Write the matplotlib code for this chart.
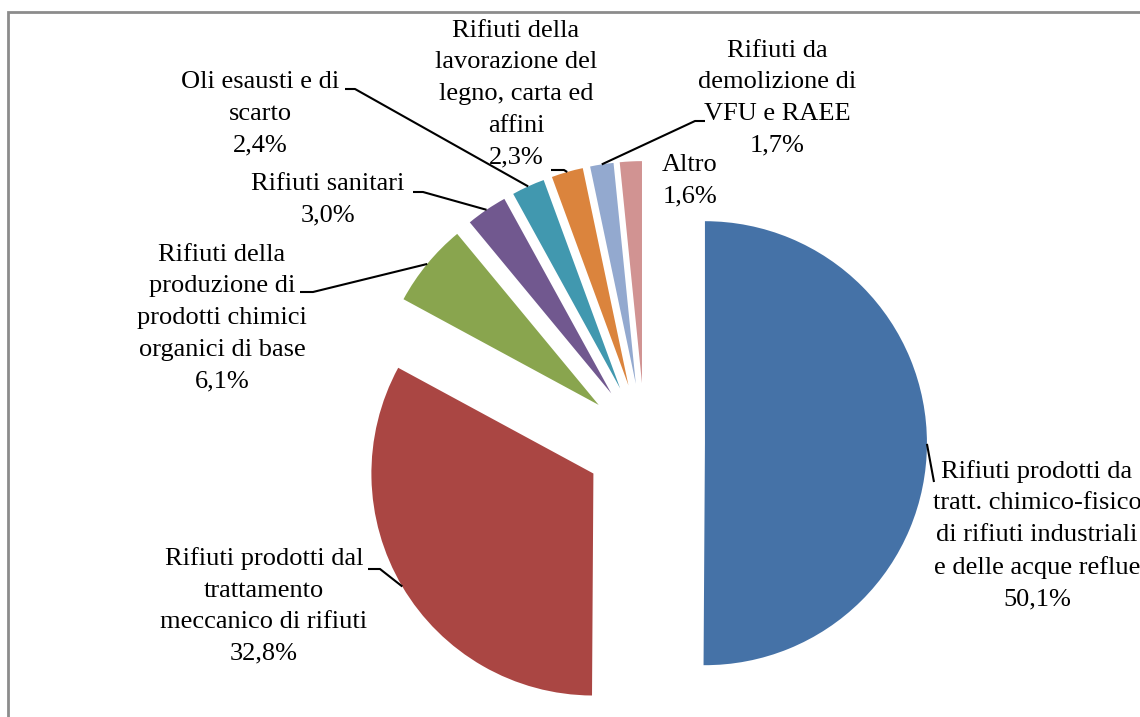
import math
import matplotlib
matplotlib.use("Agg")
import matplotlib.pyplot as plt
from matplotlib.patches import Rectangle

plt.rcParams['font.family'] = ['Liberation Serif', 'DejaVu Serif']

# data
categorie = ['Rifiuti prodotti da\ntratt. chimico-fisico\ndi rifiuti industriali\ne delle acque reflue',
             'Rifiuti prodotti dal\ntrattamento\nmeccanico di rifiuti',
             'Rifiuti della\nproduzione di\nprodotti chimici\norganici di base',
             'Rifiuti sanitari',
             'Oli esausti e di\nscarto',
             'Rifiuti della\nlavorazione del\nlegno, carta ed\naffini',
             'Rifiuti da\ndemolizione di\nVFU e RAEE',
             'Altro']
valori = [50.1, 32.8, 6.1, 3.0, 2.4, 2.3, 1.7, 1.6]
colori = ['#4572A7', '#AA4643', '#89A54E', '#71588F', '#4198AF', '#DB843D', '#93A9CF', '#D19392']

# layout (pixel positions of the labels and leader stubs)
W, H = 1140, 717
CX, CY, R = 645, 443, 222
ESPLODI = 0.27
pos_etichette = [(1037, 535), (264, 606), (222, 318), (328, 200),
                 (260, 114), (516, 94), (777, 98), (690, 181)]
stub = [[(934, 482)], [(368, 569), (380, 569)], [(300, 292), (313, 292)],
        [(413, 192), (423, 192)], [(345, 89), (355, 89)],
        [(551, 170), (564, 170)], [(705, 121), (695, 121)], None]


def px(x, y):
    return (x - CX) / R, (CY - y) / R


fig = plt.figure(figsize=(W / 100, H / 100), dpi=100)
ax = fig.add_axes([0, 0, 1, 1])
ax.pie(valori, colors=colori, startangle=90, counterclock=False,
       explode=[ESPLODI] * len(valori), radius=1, center=(0, 0),
       wedgeprops=dict(linewidth=0))
ax.set_xlim(px(0, 0)[0], px(W, 0)[0])
ax.set_ylim(px(0, H)[1], px(0, 0)[1])
ax.set_aspect('auto')
ax.axis('off')

tot = sum(valori)
inizio = 90.0
for i, (nome, v) in enumerate(zip(categorie, valori)):
    ang = v / tot * 360
    medio = math.radians(inizio - ang / 2)
    inizio -= ang
    testo = nome + '\n' + f'{v:.1f}'.replace('.', ',') + '%'
    tx, ty = px(*pos_etichette[i])
    ax.text(tx, ty, testo, ha='center', va='center', multialignment='center',
            fontsize=19, linespacing=1.56, color='black')
    if stub[i] is None:
        continue
    # punto sul bordo esterno dello spicchio esploso
    ex = (1 + ESPLODI) * math.cos(medio)
    ey = (1 + ESPLODI) * math.sin(medio)
    punti = [px(*p) for p in stub[i]] + [(ex, ey)]
    ax.plot([p[0] for p in punti], [p[1] for p in punti], color='black', lw=1.5,
            solid_capstyle='butt')

# cornice del grafico
fig.patches.append(Rectangle((8 / W, -0.1), 1.2, (H - 12) / H + 0.1, transform=fig.transFigure,
                             fill=False, edgecolor='#8c8c8c', linewidth=2))

fig.savefig('out.png', dpi=100)
